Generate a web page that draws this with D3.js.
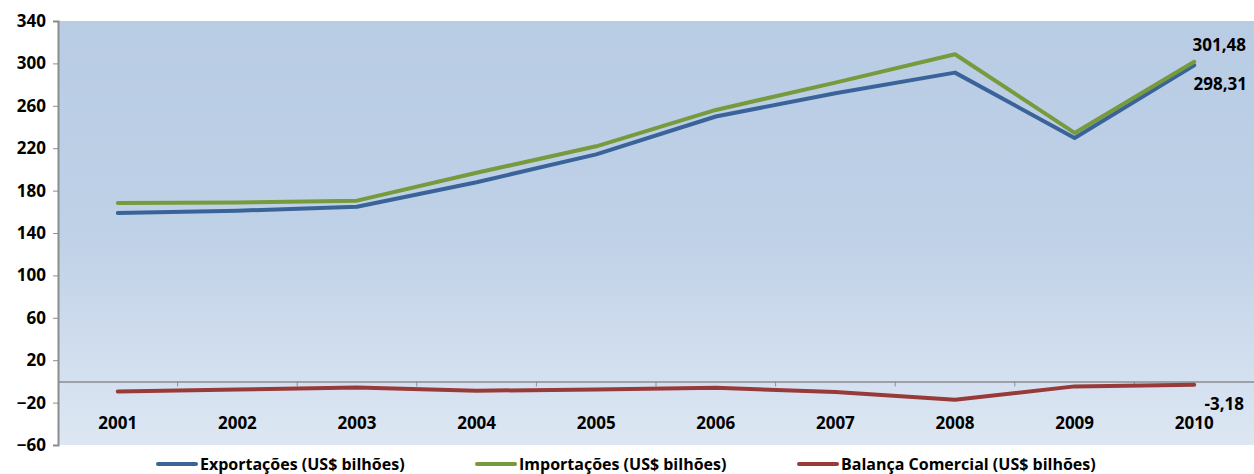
<!DOCTYPE html>
<html>
<head>
<meta charset="utf-8">
<script src="https://cdn.jsdelivr.net/npm/d3@7"></script>
<style>
  body { margin: 0; background: #fff; }
  text { font-family: "Open Sans", "Noto Sans", sans-serif; font-weight: bold; fill: #000; }
</style>
</head>
<body>
<div id="chart"></div>
<script>
var years = ["2001","2002","2003","2004","2005","2006","2007","2008","2009","2010"];
var exportacoes = [158.8, 161.0, 164.8, 187.9, 214.2, 249.9, 271.9, 291.3, 229.7, 298.31];
var importacoes = [168.4, 168.7, 170.5, 196.8, 221.8, 256.1, 281.9, 308.6, 234.4, 301.48];
var balanca = [-9.6, -7.6, -5.8, -8.8, -7.6, -6.1, -10.1, -17.3, -4.7, -3.18];
var yTicks = [340, 300, 260, 220, 180, 140, 100, 60, 20, -20, -60];
var seriesNames = ["Exportações (US$ bilhões)", "Importações (US$ bilhões)", "Balança Comercial (US$ bilhões)"];
var colors = ["#3a6499", "#779a3d", "#983a37"];

var width = 1254, height = 474;
var plotLeft = 58, plotRight = 1254, plotTop = 21, plotBottom = 445;

var svg = d3.select("#chart").append("svg").attr("width", width).attr("height", height);

var defs = svg.append("defs");
var grad = defs.append("linearGradient").attr("id", "bg").attr("x1", 0).attr("y1", 0).attr("x2", 0).attr("y2", 1);
grad.append("stop").attr("offset", "0%").attr("stop-color", "#b8cce4");
grad.append("stop").attr("offset", "50%").attr("stop-color", "#bfd1e7");
grad.append("stop").attr("offset", "100%").attr("stop-color", "#dde7f3");

var y = d3.scaleLinear().domain([-60, 340]).range([plotBottom, plotTop]);
var x = d3.scaleBand().domain(years).range([plotLeft, plotRight]);

svg.append("rect").attr("x", plotLeft).attr("y", plotTop).attr("width", plotRight - plotLeft).attr("height", plotBottom - plotTop).attr("fill", "url(#bg)");

// y axis
var yAxis = d3.axisLeft(y).tickValues(yTicks).tickSize(5).tickPadding(7);
var gy = svg.append("g").attr("transform", "translate(" + plotLeft + ",0)").call(yAxis);
gy.select(".domain").attr("stroke", "#8c8c8c").attr("stroke-width", 2);
gy.selectAll(".tick line").attr("stroke", "#8c8c8c");
gy.selectAll("text").style("font-size", "17px");

// x axis at zero
var xAxis = d3.axisBottom(x).tickSize(0).tickPadding(36);
var gx = svg.append("g").attr("transform", "translate(0," + y(0) + ")").call(xAxis);
gx.select(".domain").attr("stroke", "#8c8c8c").attr("stroke-width", 1.5);
gx.selectAll("text").style("font-size", "17px");
svg.selectAll("line.xt").data(years.slice(1)).enter().append("line")
  .attr("x1", function(d) { return x(d); }).attr("x2", function(d) { return x(d); })
  .attr("y1", y(0)).attr("y2", y(0) + 5).attr("stroke", "#8c8c8c");

var line = d3.line()
  .x(function(d, i) { return x(years[i]) + x.bandwidth() / 2; })
  .y(function(d) { return y(d); });

[exportacoes, importacoes, balanca].forEach(function(s, i) {
  svg.append("path").datum(s).attr("d", line).attr("fill", "none")
    .attr("stroke", colors[i]).attr("stroke-width", 4).attr("stroke-linejoin", "round").attr("stroke-linecap", "round");
});

// data labels
var lastX = x("2010") + x.bandwidth() / 2;
svg.append("text").attr("x", lastX + 25).attr("y", y(importacoes[9]) - 11).attr("text-anchor", "middle").style("font-size", "17px").text("301,48");
svg.append("text").attr("x", lastX + 26).attr("y", y(exportacoes[9]) + 25).attr("text-anchor", "middle").style("font-size", "17px").text("298,31");
svg.append("text").attr("x", lastX + 30).attr("y", y(balanca[9]) + 25).attr("text-anchor", "middle").style("font-size", "17px").text("-3,18");

// legend
var legX = [158, 477, 799];
seriesNames.forEach(function(n, i) {
  var g = svg.append("g").attr("transform", "translate(" + legX[i] + ",464)");
  g.append("line").attr("x1", 0).attr("x2", 38).attr("stroke", colors[i]).attr("stroke-width", 4).attr("stroke-linecap", "round");
  g.append("text").attr("x", 42).attr("y", 6).style("font-size", "16px").text(n);
});
</script>
</body>
</html>
